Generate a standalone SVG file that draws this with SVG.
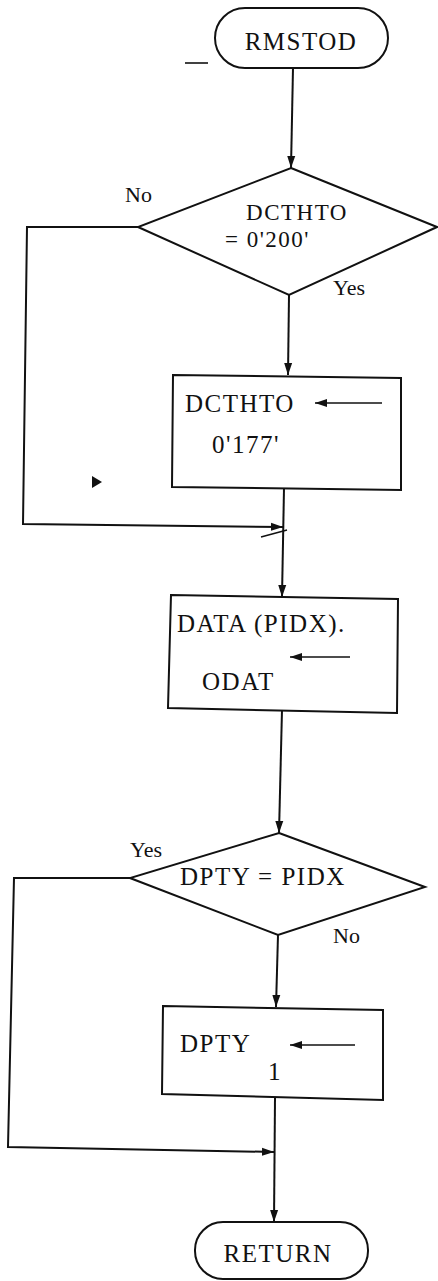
<svg xmlns="http://www.w3.org/2000/svg" width="438" height="1281" viewBox="0 0 438 1281">
<style>
.shape{fill:#fff;stroke:#111;stroke-width:2}
.conn{fill:none;stroke:#111;stroke-width:2}
.thin{fill:none;stroke:#111;stroke-width:1.6}
text{font-family:"Liberation Serif","Times New Roman",serif;fill:#111;font-size:25px;letter-spacing:1.5px}
.lbl{font-size:22px;letter-spacing:0}
.sm{font-size:23px}
</style>
<defs>
<marker id="ah" markerUnits="userSpaceOnUse" markerWidth="12" markerHeight="20" refX="18" refY="6" viewBox="0 0 18 12" orient="auto">
<path d="M0,0 L18,6 L0,12 Z" fill="#111"/>
</marker>
<marker id="sah" markerUnits="userSpaceOnUse" markerWidth="12" markerHeight="9" refX="12" refY="4" viewBox="0 0 12 8" orient="auto">
<path d="M0,0 L12,4 L0,8 Z" fill="#111"/>
</marker>
</defs>
<rect width="438" height="1281" fill="#fff"/>
<g id="connectors">
<path class="conn" d="M293,68 L291,168" marker-end="url(#ah)"/>
<path class="conn" d="M289,295 L288,375" marker-end="url(#ah)"/>
<path class="conn" d="M284,488 L282,597" marker-end="url(#ah)"/>
<path class="conn" d="M138,227 L27,227 L23,524 L283,527" marker-end="url(#ah)"/>
<path class="conn" d="M282,710 L279,833" marker-end="url(#ah)"/>
<path class="conn" d="M130,878 L14,878 L8,1147 L274,1152" marker-end="url(#ah)"/>
<path class="conn" d="M278,935 L276,1007" marker-end="url(#ah)"/>
<path class="conn" d="M275,1098 L274,1222" marker-end="url(#ah)"/>
<line class="thin" x1="261" y1="537" x2="287" y2="530"/>
<line class="thin" x1="185" y1="63" x2="208" y2="63"/>
<path d="M92,476 L102,482 L92,488 Z" fill="#111"/>
</g>
<g id="start">
<rect class="shape" x="215" y="8" width="173" height="60" rx="30"/>
<text x="301" y="50" text-anchor="middle">RMSTOD</text>
</g>
<g id="decision1">
<polygon class="shape" points="291,168 437,227 289,295 138,227"/>
<text class="sm" x="297" y="220" text-anchor="middle">DCTHTO</text>
<text class="sm" x="225" y="247">= 0'200'</text>
<text class="lbl" x="125" y="202">No</text>
<text class="lbl" x="333" y="295">Yes</text>
</g>
<g id="assign1">
<polygon class="shape" points="173,375 401,378 401,490 172,487"/>
<text x="185" y="412">DCTHTO</text>
<line class="thin" x1="382" y1="403" x2="315" y2="403" marker-end="url(#sah)"/>
<text x="212" y="453">0'177'</text>
</g>
<g id="assign2">
<polygon class="shape" points="171,595 398,599 397,713 168,708"/>
<text x="177" y="632">DATA (PIDX).</text>
<line class="thin" x1="350" y1="657" x2="290" y2="657" marker-end="url(#sah)"/>
<text x="202" y="690">ODAT</text>
</g>
<g id="decision2">
<polygon class="shape" points="279,833 425,887 278,935 130,878"/>
<text x="180" y="885">DPTY = PIDX</text>
<text class="lbl" x="130" y="857">Yes</text>
<text class="lbl" x="333" y="943">No</text>
</g>
<g id="assign3">
<polygon class="shape" points="163,1006 383,1010 383,1100 162,1094"/>
<text x="180" y="1052">DPTY</text>
<line class="thin" x1="355" y1="1045" x2="290" y2="1045" marker-end="url(#sah)"/>
<text x="275" y="1080" text-anchor="middle">1</text>
</g>
<g id="end">
<rect class="shape" x="195" y="1222" width="173" height="57" rx="28"/>
<text x="278" y="1262" text-anchor="middle">RETURN</text>
</g>
</svg>
